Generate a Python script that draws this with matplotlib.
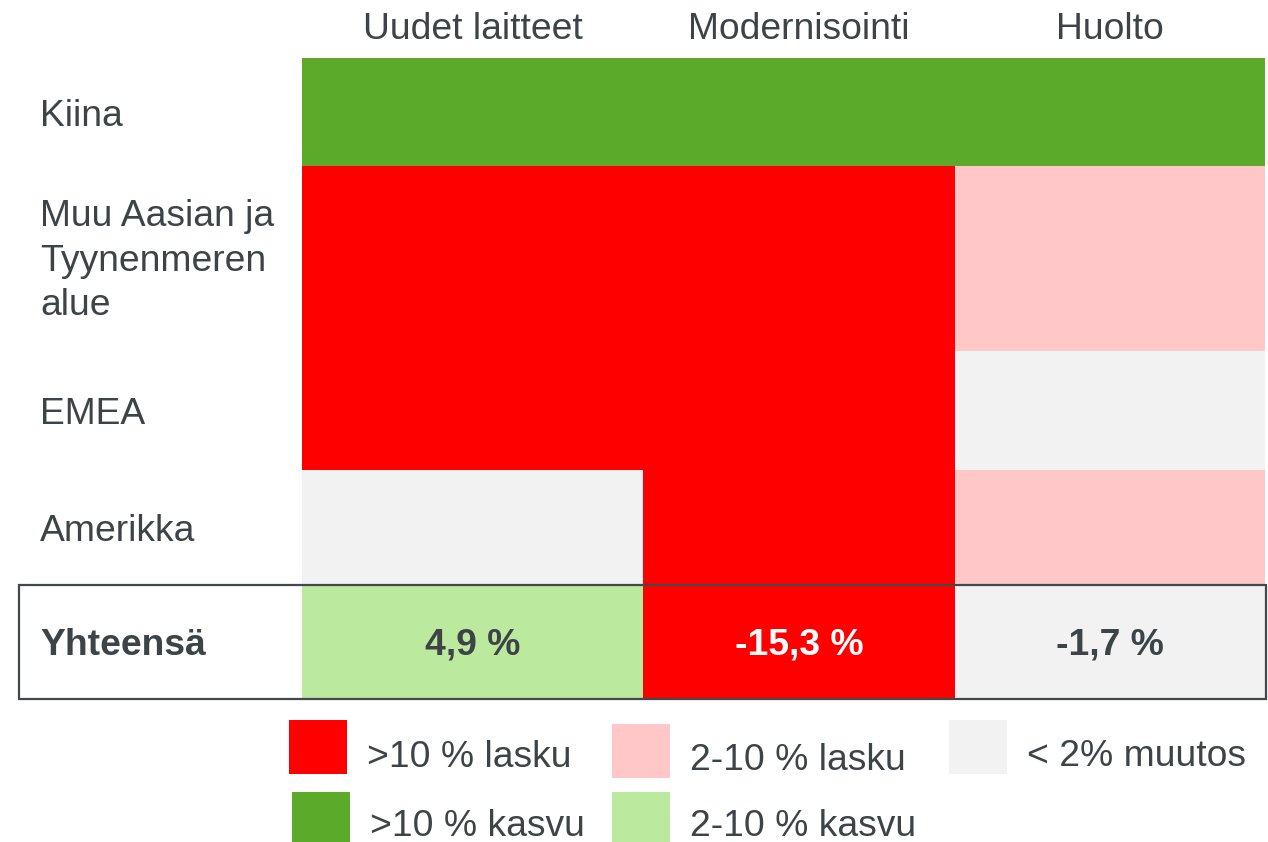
import matplotlib
matplotlib.use("Agg")
import matplotlib.pyplot as plt
from matplotlib.patches import Rectangle
from matplotlib.colors import ListedColormap, BoundaryNorm
import numpy as np

plt.rcParams['font.family'] = ['Liberation Sans', 'DejaVu Sans']

# ---- data ----
columns = ["Uudet laitteet", "Modernisointi", "Huolto"]
rows = ["Kiina", "Muu Aasian ja\nTyynenmeren\nalue", "EMEA", "Amerikka", "Yhteensä"]
categories = [">10 % lasku", "2-10 % lasku", "< 2% muutos", ">10 % kasvu", "2-10 % kasvu"]
cat_colors = ["#FF0000", "#FFC7C7", "#F2F2F2", "#5BAA2A", "#BBE99D"]
# category index per cell (rows x columns)
cells = [
    [3, 3, 3],   # Kiina
    [0, 0, 1],   # Muu Aasian ja Tyynenmeren alue
    [0, 0, 2],   # EMEA
    [2, 0, 1],   # Amerikka
    [4, 0, 2],   # Yhteensä
]
totals = [4.9, -15.3, -1.7]

# ---- layout (pixel coordinates) ----
W, H = 1268, 842
col_edges = [302, 643, 955, 1265]
row_edges = [58, 165.5, 350.5, 470, 585, 699]
text_color = "#3D4448"
fs = 26.8

fig = plt.figure(figsize=(W / 100, H / 100), dpi=100)
ax = fig.add_axes([0, 0, 1, 1])
ax.set_xlim(0, W)
ax.set_ylim(H, 0)
ax.axis("off")

cmap = ListedColormap(cat_colors)
norm = BoundaryNorm(np.arange(-0.5, len(cat_colors) + 0.5, 1), cmap.N)
ax.pcolormesh(col_edges, row_edges, np.array(cells), cmap=cmap, norm=norm,
              shading="flat", edgecolors="none", antialiased=False)

# column headers
for j, name in enumerate(columns):
    xc = (col_edges[j] + col_edges[j + 1]) / 2
    ax.text(xc, 39, name, ha="center", va="baseline", fontsize=fs, color=text_color)

# row labels (baseline of last line)
row_baselines = [126, 315, 424, 541, 655]
for i, name in enumerate(rows):
    bold = (i == len(rows) - 1)
    ax.text(40, row_baselines[i], name, ha="left", va="baseline",
            fontsize=fs, color=text_color,
            fontweight="bold" if bold else "normal",
            linespacing=1.35)

# totals
for j, v in enumerate(totals):
    xc = (col_edges[j] + col_edges[j + 1]) / 2
    cat = cells[-1][j]
    c = "white" if cat == 0 else text_color
    ax.text(xc, 655, f"{v:.1f} %".replace(".", ","), ha="center", va="baseline",
            fontsize=fs, fontweight="bold", color=c)

# total row frame
ax.add_patch(Rectangle((19, 585), 1266 - 19, 699 - 585, fill=False,
                       edgecolor="#43484B", linewidth=1.6, zorder=5))

# legend
legend_items = [
    (0, (289, 720), (367, 767)),
    (1, (612, 724), (690, 770)),
    (2, (949, 720), (1027, 766)),
    (3, (292, 792), (370, 836)),
    (4, (612, 792), (690, 836)),
]
for cat, (sx, sy), (tx, ty) in legend_items:
    ax.add_patch(Rectangle((sx, sy), 58, 54, facecolor=cat_colors[cat], edgecolor="none"))
    ax.text(tx, ty, categories[cat], ha="left", va="baseline", fontsize=fs,
            color=text_color)

fig.savefig("out.png", dpi=100)
